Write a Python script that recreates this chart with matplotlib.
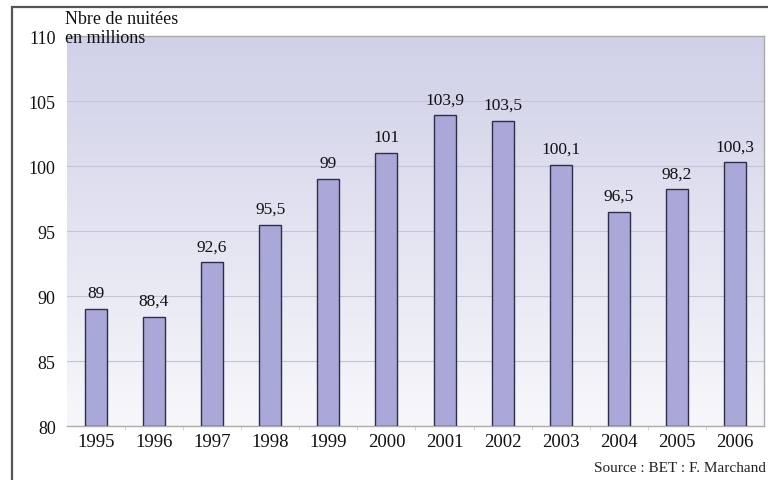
import numpy as np
import matplotlib.pyplot as plt
from matplotlib.patches import Rectangle
from matplotlib.colors import LinearSegmentedColormap

years = ['1995', '1996', '1997', '1998', '1999', '2000',
         '2001', '2002', '2003', '2004', '2005', '2006']
nuitees = [89, 88.4, 92.6, 95.5, 99, 101, 103.9, 103.5, 100.1, 96.5, 98.2, 100.3]
yticks = [80, 85, 90, 95, 100, 105, 110]

plt.rcParams['font.family'] = ['Liberation Serif', 'DejaVu Serif']

fig = plt.figure(figsize=(7.68, 4.81), dpi=100)
ax = fig.add_axes([0.087, 0.112, 0.908, 0.811])

# outer frame
fig.patches.append(Rectangle((0.0156, -0.1), 1.2, 1.083, transform=fig.transFigure,
                             fill=False, edgecolor='#555555', linewidth=1.6))

# gradient background
grad = np.linspace(0, 1, 256).reshape(-1, 1)
cmap = LinearSegmentedColormap.from_list('bg', ['#f7f7fb', '#d0d0e8'])
ax.imshow(grad, aspect='auto', cmap=cmap, origin='lower',
          extent=[0, 1, 0, 1], transform=ax.transAxes, zorder=0)

x = np.arange(len(years))
ax.bar(x, [v - 80 for v in nuitees], bottom=80, width=0.38, color='#a9a8d9',
       edgecolor='#2e2e48', linewidth=1.0, zorder=3)

for xi, v in zip(x, nuitees):
    ax.text(xi, v + 0.6, ('%g' % v).replace('.', ','), ha='center', va='bottom',
            fontsize=12.5, color='#111111', zorder=4)

ax.set_xlim(-0.5, len(years) - 0.5)
ax.set_ylim(80, 110)
ax.set_yticks(yticks)
ax.set_yticklabels([str(t) for t in yticks], fontsize=13)
ax.set_xticks(x)
ax.set_xticklabels(years, fontsize=13.5)
ax.tick_params(axis='both', length=0, pad=8, colors='#111111')
ax.tick_params(axis='x', pad=5)
ax.set_xticks(x[:-1] + 0.5, minor=True)
ax.tick_params(axis='x', which='minor', length=3, color='#cccccc')

for t in yticks[1:-1]:
    ax.axhline(t, color='#c4c4d8', linewidth=0.8, zorder=1)

for s in ['top', 'right', 'bottom']:
    ax.spines[s].set_color('#aaaaaa')
    ax.spines[s].set_linewidth(1.0)
ax.spines['left'].set_visible(False)

fig.text(0.085, 0.978, 'Nbre de nuitées\nen millions', ha='left', va='top',
         fontsize=13, color='#111111', linespacing=1.2)
fig.text(0.997, 0.012, 'Source : BET : F. Marchand', ha='right', va='bottom',
         fontsize=11, color='#222222')

fig.savefig('out.png', dpi=100)
